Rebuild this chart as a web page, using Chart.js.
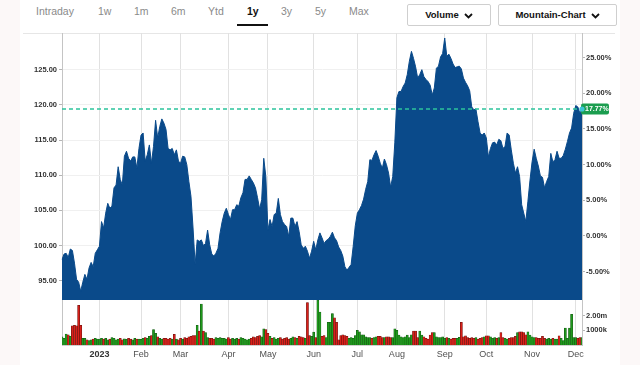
<!DOCTYPE html>
<html>
<head>
<meta charset="utf-8">
<script src="https://cdn.jsdelivr.net/npm/chart.js@4.4.1/dist/chart.umd.min.js"></script>
<style>
    body { margin: 0; background: #fcf8f8; font-family: "Liberation Sans", Arial, sans-serif; }
    #page { position: relative; width: 640px; height: 365px; overflow: hidden; }
    #sheet { position: absolute; left: 20px; top: 0; width: 600px; height: 365px; background: #fff; }
    .tab { position: absolute; top: 5px; font-size: 10.5px; line-height: 12px; color: #8a8a8a; }
    .tab.on { color: #111; font-weight: bold; }
    #underline { position: absolute; left: 237px; top: 24px; width: 31px; height: 2px; background: #111; }
    .btn { position: absolute; top: 4px; height: 20px; border: 1px solid #cfcfcf; border-radius: 2px; background: #fff;
           font-size: 9.5px; font-weight: bold; color: #111; line-height: 20px; text-align: center; }
    .btn svg { vertical-align: -1px; margin-left: 5px; }
    #topline { position: absolute; left: 23px; top: 33px; width: 592px; height: 1px; background: #e6e6e6; }
    canvas { position: absolute; left: 0; }
    #chart-main { top: 33px; }
    #chart-vol { top: 300px; }
</style>
</head>
<body>
<div id="page">
    <div id="sheet"></div>
    <span class="tab" style="left:36px">Intraday</span>
    <span class="tab" style="left:98px">1w</span>
    <span class="tab" style="left:134px">1m</span>
    <span class="tab" style="left:171px">6m</span>
    <span class="tab" style="left:208px">Ytd</span>
    <span class="tab on" style="left:247px">1y</span>
    <span class="tab" style="left:281px">3y</span>
    <span class="tab" style="left:315px">5y</span>
    <span class="tab" style="left:349px">Max</span>
    <div id="underline"></div>
    <div class="btn" style="left:407px;width:82px">Volume<svg width="9" height="6" viewBox="0 0 9 6"><polyline points="1,1 4.5,4.5 8,1" fill="none" stroke="#111" stroke-width="1.8"/></svg></div>
    <div class="btn" style="left:498px;width:117px">Mountain-Chart<svg width="9" height="6" viewBox="0 0 9 6"><polyline points="1,1 4.5,4.5 8,1" fill="none" stroke="#111" stroke-width="1.8"/></svg></div>
    <div id="topline"></div>
    <canvas id="chart-main" width="640" height="267"></canvas>
    <canvas id="chart-vol" width="640" height="65"></canvas>
</div>
<script>
// daily closes, Dec 6 2022 .. Dec 6 2023 (trading days)
const prices = [
    98.0, 98.8, 98.9, 98.3, 99.5, 99.3, 97.5, 95.2, 94.8, 93.5,
    94.8, 95.9, 95.2, 96.8, 97.6, 97.0, 98.9, 99.4, 99.9, 103.4,
    102.5, 104.6, 106.0, 105.3, 105.6, 108.2, 108.6, 111.2, 109.4, 108.6,
    112.7, 113.4, 112.4, 112.0, 112.6, 112.6, 111.0, 113.8, 115.7, 116.0,
    112.0, 112.9, 114.3, 111.7, 114.1, 117.8, 115.3, 116.9, 118.0, 117.4,
    116.5, 113.8, 113.6, 113.8, 112.9, 113.6, 112.0, 111.7, 112.7, 112.6,
    111.5, 109.1, 107.0, 102.5, 97.3, 100.8, 100.6, 100.8, 100.0, 100.3,
    102.2, 100.1, 98.8, 98.5, 98.9, 99.6, 101.8, 103.4, 104.6, 105.3,
    104.4, 103.7, 105.1, 105.1, 105.8, 105.6, 106.8, 107.5, 109.4, 109.4,
    109.9, 109.4, 108.9, 108.2, 106.8, 105.2, 106.5, 112.4, 109.8, 102.2,
    103.7, 102.7, 104.4, 104.6, 106.7, 104.4, 103.4, 103.0, 102.7, 101.3,
    103.9, 103.9, 102.7, 103.4, 102.0, 100.1, 99.6, 99.9, 99.2, 98.2,
    99.2, 100.6, 99.4, 100.8, 101.8, 101.1, 100.3, 100.7, 100.9, 101.3,
    101.9, 101.1, 100.7, 99.8, 99.3, 98.5, 97.0, 96.5, 96.9, 97.3,
    99.9, 102.8, 104.6, 105.1, 105.7, 106.6, 108.0, 109.1, 112.2, 112.1,
    112.9, 113.5, 112.7, 111.7, 111.0, 112.3, 111.5, 110.3, 108.3, 109.8,
    114.6, 121.0, 121.9, 121.9, 122.6, 123.1, 124.3, 126.2, 127.6, 126.6,
    125.4, 123.8, 124.3, 125.0, 124.0, 123.6, 123.3, 122.8, 121.4, 122.4,
    125.2, 125.5, 126.8, 127.3, 129.5, 126.9, 127.2, 126.6, 125.8, 125.3,
    125.4, 125.5, 125.1, 123.8, 123.2, 122.7, 122.0, 119.7, 119.3, 119.4,
    117.6, 116.0, 115.7, 116.0, 115.3, 112.6, 113.8, 114.6, 114.7, 114.3,
    115.1, 114.9, 113.8, 114.1, 116.0, 115.7, 113.6, 111.7, 110.3, 111.2,
    109.8, 105.8, 104.6, 103.4, 106.3, 109.3, 111.9, 113.7, 112.4, 111.3,
    109.9, 109.7, 108.2, 109.1, 109.8, 113.1, 111.9, 112.2, 113.4, 112.4,
    112.4, 112.8, 113.7, 114.8, 116.0, 116.7, 118.8, 119.9, 119.7, 118.8,
    119.4
];

// volume in millions
const volumes = [
    0.55, 0.45, 0.75, 0.7, 0.6, 1.3, 1.35, 1.3, 2.7, 1.35,
    0.45, 0.45, 0.35, 0.3, 0.35, 0.4, 0.45, 0.4, 0.4, 0.45,
    0.4, 0.45, 0.35, 0.4, 0.5, 0.45, 0.35, 0.4, 0.45, 0.35,
    0.42, 0.38, 0.45, 0.4, 0.35, 0.45, 0.4, 0.4, 0.38, 0.45,
    0.5, 0.45, 0.6, 0.65, 1.05, 0.8, 0.55, 0.45, 0.4, 0.45,
    0.45, 0.4, 0.45, 0.4, 0.72, 0.4, 0.35, 0.45, 0.4, 0.5,
    0.45, 0.55, 0.6, 0.65, 0.65, 1.35, 0.95, 2.8, 0.95, 0.85,
    0.5, 0.45, 0.45, 0.4, 0.5, 0.45, 0.5, 0.45, 0.45, 0.4,
    0.5, 0.4, 0.45, 0.4, 0.45, 0.4, 0.5, 0.45, 0.4, 0.35,
    0.4, 0.45, 0.55, 0.5, 0.6, 0.65, 0.55, 1.1, 1.05, 0.8,
    0.6, 0.45, 0.5, 0.4, 0.45, 0.5, 0.4, 0.45, 0.5, 0.4,
    0.45, 0.55, 0.5, 0.45, 0.6, 0.55, 0.5, 0.45, 2.9, 0.65,
    0.6, 0.88, 0.5, 3.07, 2.25, 0.6, 0.65, 0.5, 1.55, 1.55,
    2.15, 1.85, 1.55, 0.35, 0.65, 0.7, 0.65, 0.6, 0.45, 0.5,
    0.45, 0.65, 1.0, 0.9, 0.7, 0.7, 0.55, 0.5, 0.5, 0.45,
    0.5, 0.55, 0.6, 0.6, 0.5, 0.5, 0.55, 0.55, 0.5, 0.5,
    1.1, 1.0, 0.68, 0.55, 0.5, 0.55, 0.68, 0.5, 0.7, 0.95,
    0.95, 0.5, 0.95, 0.68, 0.55, 0.45, 0.4, 0.68, 0.85, 0.85,
    0.55, 0.5, 0.5, 0.55, 0.45, 0.5, 0.45, 0.4, 0.45, 0.45,
    0.45, 0.52, 1.55, 0.55, 0.62, 0.5, 0.45, 0.5, 0.45, 0.5,
    0.4, 0.45, 0.5, 0.55, 0.62, 0.62, 0.55, 0.45, 0.5, 0.45,
    0.5, 0.85, 0.5, 0.45, 0.4, 0.45, 0.5, 0.5, 0.6, 0.85,
    0.9, 0.9, 0.85, 0.7, 0.9, 0.68, 0.55, 0.5, 0.5, 0.45,
    0.45, 0.6, 0.45, 0.4, 0.45, 0.4, 0.45, 0.4, 0.4, 0.62,
    0.45, 0.3, 1.15, 0.45, 1.15, 2.1, 0.5, 0.5, 0.45, 0.5,
    0.5
];

const monthStarts = [18, 38, 57, 80, 99, 121, 142, 161, 184, 204, 226, 247];
const monthNames = ['2023', 'Feb', 'Mar', 'Apr', 'May', 'Jun', 'Jul', 'Aug', 'Sep', 'Oct', 'Nov', 'Dec'];
const priceTicks = [95, 100, 105, 110, 115, 120, 125];
const pctTicks = [-5, 0, 5, 10, 15, 20, 25];
const volTicks = [1, 2];

const basePrice = 101.385;   // 0% reference
const priceMin = 92.26;
const priceMax = 130.21;
const volMax = 3.07;

const labels = prices.map((p, i) => {
    let k = monthStarts.indexOf(i);
    return k >= 0 ? monthNames[k] : '';
});

const gridCol = ctx => (ctx.tick && ctx.tick.label) ? '#e1e1e1' : 'rgba(0,0,0,0)';
const axisFont = { family: 'Liberation Sans', size: 7.5, weight: 'bold' };

function fixWidth(w) {
    return s => { s.width = w; s.paddingTop = 0; s.paddingBottom = 0; };
}
function fixHeight(h) {
    return s => { s.height = h; s.paddingLeft = 0; s.paddingRight = 0; };
}

const lastLine = {
    id: 'lastLine',
    afterDatasetsDraw(chart) {
        let ctx = chart.ctx;
        let a = chart.chartArea;
        let last = prices[prices.length - 1];
        let y = Math.round(chart.scales.y.getPixelForValue(last));
        let pct = ((last / basePrice - 1) * 100).toFixed(2) + '%';

        ctx.save();
        ctx.strokeStyle = '#2cc49c';
        ctx.lineWidth = 1.5;
        ctx.setLineDash([4, 3]);
        ctx.beginPath();
        ctx.moveTo(a.left, y);
        ctx.lineTo(a.right, y);
        ctx.stroke();
        ctx.setLineDash([]);

        ctx.fillStyle = '#1b9d4f';
        ctx.beginPath();
        ctx.roundRect(a.right - 1, y - 5.5, 28, 11, 2);
        ctx.fill();
        ctx.fillStyle = '#fff';
        ctx.font = 'bold 7px "Liberation Sans"';
        ctx.textBaseline = 'middle';
        ctx.fillText(pct, a.right + 3, y + 0.5);

        ctx.fillStyle = '#3cc5d6';
        ctx.beginPath();
        ctx.arc(a.right, y, 2.6, 0, Math.PI * 2);
        ctx.fill();
        ctx.restore();
    }
};

new Chart(document.getElementById('chart-main'), {
    type: 'line',
    data: {
        labels: labels,
        datasets: [{
            data: prices,
            fill: 'start',
            borderColor: '#0a4a8a',
            backgroundColor: '#0a4a8a',
            borderWidth: 1,
            pointRadius: 0,
            tension: 0
        }]
    },
    options: {
        responsive: false,
        animation: false,
        layout: { padding: 0 },
        plugins: { legend: { display: false }, tooltip: { enabled: false } },
        scales: {
            x: {
                offset: false,
                ticks: { display: false, autoSkip: false },
                grid: { color: gridCol, drawTicks: false },
                border: { display: false },
                afterFit: fixHeight(0)
            },
            y: {
                position: 'left',
                min: priceMin,
                max: priceMax,
                afterBuildTicks: s => { s.ticks = priceTicks.map(v => ({ value: v })); },
                ticks: { font: axisFont, color: '#333', padding: 2, callback: v => v.toFixed(2) },
                grid: { color: '#f0f0f0', tickLength: 3, tickColor: '#b5b5b5' },
                border: { color: '#c4c4c4' },
                afterFit: fixWidth(62)
            },
            y2: {
                position: 'right',
                min: (priceMin / basePrice - 1) * 100,
                max: (priceMax / basePrice - 1) * 100,
                afterBuildTicks: s => { s.ticks = pctTicks.map(v => ({ value: v })); },
                ticks: { font: axisFont, color: '#333', padding: 1, callback: v => v.toFixed(2) + '%' },
                grid: { drawOnChartArea: false, tickLength: 3, tickColor: '#b5b5b5' },
                border: { color: '#c4c4c4' },
                afterFit: fixWidth(58)
            }
        }
    },
    plugins: [lastLine]
});

const upDown = volumes.map((v, i) => i === 0 || prices[i] >= prices[i - 1]);

new Chart(document.getElementById('chart-vol'), {
    type: 'bar',
    data: {
        labels: labels,
        datasets: [{
            data: volumes,
            yAxisID: 'yv',
            backgroundColor: upDown.map(u => u ? '#1f9a1c' : '#d9201a'),
            borderColor: upDown.map(u => u ? '#145214' : '#5e100c'),
            borderWidth: 0.5,
            barPercentage: 1,
            categoryPercentage: 1
        }]
    },
    options: {
        responsive: false,
        animation: false,
        layout: { padding: 0 },
        plugins: { legend: { display: false }, tooltip: { enabled: false } },
        scales: {
            x: {
                offset: false,
                ticks: {
                    autoSkip: false,
                    maxRotation: 0,
                    padding: 4,
                    color: ctx => ctx.tick && ctx.tick.label === '2023' ? '#333' : '#505050',
                    font: ctx => ({ family: 'Liberation Sans', size: 9,
                        weight: ctx.tick && ctx.tick.label === '2023' ? 'bold' : 'normal' })
                },
                grid: { color: gridCol, offset: false, drawTicks: false },
                border: { color: '#d0d0d0' },
                afterFit: fixHeight(20)
            },
            yl: {
                type: 'linear',
                position: 'left',
                ticks: { display: false },
                grid: { display: false },
                border: { color: '#c4c4c4' },
                afterFit: fixWidth(62)
            },
            yv: {
                position: 'right',
                min: 0,
                max: volMax,
                afterBuildTicks: s => { s.ticks = volTicks.map(v => ({ value: v })); },
                ticks: { font: axisFont, color: '#333', padding: 1,
                    callback: v => v === 1 ? '1000k' : v.toFixed(2) + 'm' },
                grid: { drawOnChartArea: false, tickLength: 3, tickColor: '#b5b5b5' },
                border: { color: '#c4c4c4' },
                afterFit: fixWidth(58)
            }
        }
    }
});
</script>
</body>
</html>
